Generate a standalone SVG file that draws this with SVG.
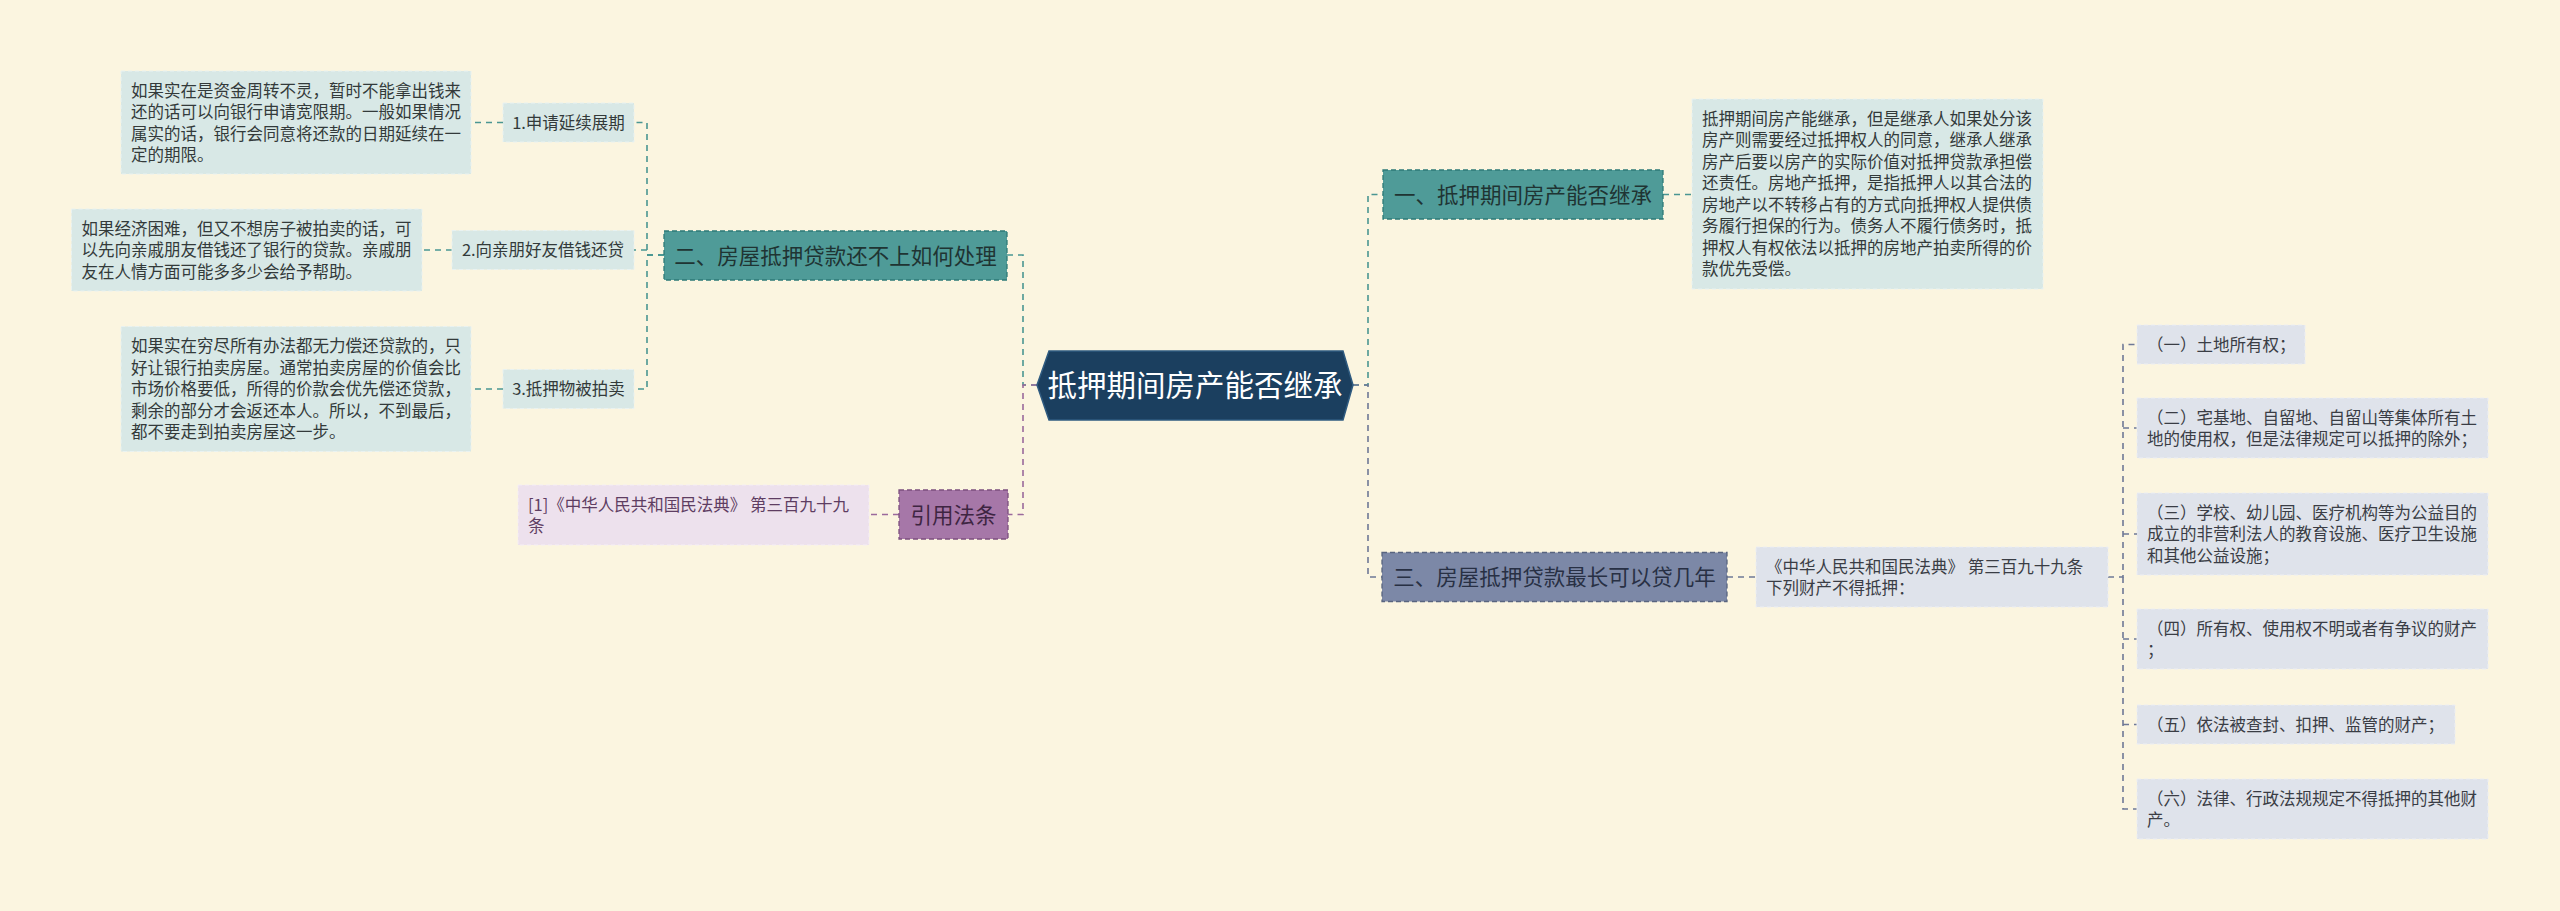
<svg xmlns="http://www.w3.org/2000/svg" width="2560" height="911" viewBox="0 0 2560 911">
<style>
text{font-family:"Noto Sans CJK SC","Noto Sans",sans-serif;}
.s{font-size:16.5px;fill:#333a3a;}
.sr{font-size:16.5px;fill:#3a3d45;}
.sp{font-size:16.5px;fill:#5e3d62;}
.b{font-size:21.5px;}
.c{stroke-width:1.6;fill:none;stroke-dasharray:6 5;}
.teal{stroke:#4a9692;}
.purp{stroke:#9a6a9c;}
.slate{stroke:#6e7896;}
.lt{fill:#d8e8e6;stroke:#e9f2f1;stroke-width:1;stroke-dasharray:4 3;}
.lr{fill:#dfe3eb;stroke:#eceef3;stroke-width:1;stroke-dasharray:4 3;}
.lp{fill:#ede1ed;stroke:#f5eef5;stroke-width:1;stroke-dasharray:4 3;}
</style>
<rect width="2560" height="911" fill="#fbf5e0"/>
<g id="connectors">
<path class="c teal" d="M1037 385H1023V255H1007"/>
<path class="c teal" d="M1353 385H1368V194.5H1383"/>
<path class="c purp" d="M1037 385H1023V514.5H1008"/>
<path class="c slate" d="M1353 385H1368V577H1382"/>
<path class="c teal" d="M664 255H647V122.5H634"/>
<path class="c teal" d="M664 255H647V250H634"/>
<path class="c teal" d="M664 255H647V389H634"/>
<path class="c teal" d="M503 122.5H471"/>
<path class="c teal" d="M452 250H422"/>
<path class="c teal" d="M503 389H471"/>
<path class="c purp" d="M899 514.5H869"/>
<path class="c teal" d="M1663 194.5H1692"/>
<path class="c slate" d="M1727 577H1756"/>
<path class="c slate" d="M2108 577H2123V344.5H2137"/>
<path class="c slate" d="M2123 428H2137"/>
<path class="c slate" d="M2123 534H2137"/>
<path class="c slate" d="M2123 639H2137"/>
<path class="c slate" d="M2123 724.5H2137"/>
<path class="c slate" d="M2123 577V809H2137"/>
</g>
<g id="center">
<polygon points="1037,385 1049,351 1343,351 1353,385 1343,420 1049,420" fill="#1b3f5f" stroke="#2f5b80" stroke-width="1.5"/>
<text x="1195" y="396" text-anchor="middle" font-size="29.5" fill="#ffffff">抵押期间房产能否继承</text>
</g>
<g id="branch2">
<rect x="664" y="231" width="343" height="49" fill="#4f9b98" stroke="#2e7a77" stroke-width="1.3" stroke-dasharray="5 3"/>
<text class="b" x="835.5" y="263.5" text-anchor="middle" fill="#1f3433">二、房屋抵押贷款还不上如何处理</text>
</g>
<g id="label1">
<rect class="lt" x="503" y="103" width="131" height="39"/>
<text class="s" x="568.5" y="128.8" text-anchor="middle">1.申请延续展期</text>
</g>
<g id="text1">
<rect class="lt" x="121" y="71" width="350" height="103"/>
<text class="s" x="131" y="96.8">如果实在是资金周转不灵，暂时不能拿出钱来</text>
<text class="s" x="131" y="118.3">还的话可以向银行申请宽限期。一般如果情况</text>
<text class="s" x="131" y="139.8">属实的话，银行会同意将还款的日期延续在一</text>
<text class="s" x="131" y="161.3">定的期限。</text>
</g>
<g id="label2">
<rect class="lt" x="452" y="230.5" width="182" height="39"/>
<text class="s" x="543" y="256.3" text-anchor="middle">2.向亲朋好友借钱还贷</text>
</g>
<g id="text2">
<rect class="lt" x="71.5" y="209" width="350.5" height="82"/>
<text class="s" x="81.5" y="234.8">如果经济困难，但又不想房子被拍卖的话，可</text>
<text class="s" x="81.5" y="256.3">以先向亲戚朋友借钱还了银行的贷款。亲戚朋</text>
<text class="s" x="81.5" y="277.8">友在人情方面可能多多少会给予帮助。</text>
</g>
<g id="label3">
<rect class="lt" x="503" y="369.5" width="131" height="39"/>
<text class="s" x="568.5" y="395.3" text-anchor="middle">3.抵押物被拍卖</text>
</g>
<g id="text3">
<rect class="lt" x="121" y="326.5" width="350" height="125"/>
<text class="s" x="131" y="352.3">如果实在穷尽所有办法都无力偿还贷款的，只</text>
<text class="s" x="131" y="373.8">好让银行拍卖房屋。通常拍卖房屋的价值会比</text>
<text class="s" x="131" y="395.3">市场价格要低，所得的价款会优先偿还贷款，</text>
<text class="s" x="131" y="416.8">剩余的部分才会返还本人。所以，不到最后，</text>
<text class="s" x="131" y="438.3">都不要走到拍卖房屋这一步。</text>
</g>
<g id="cite">
<rect x="899" y="490" width="109" height="49" fill="#a677a8" stroke="#7c4f7e" stroke-width="1.3" stroke-dasharray="5 3"/>
<text class="b" x="953.5" y="522.7" text-anchor="middle" fill="#3e2542">引用法条</text>
</g>
<g id="citetext">
<rect class="lp" x="518" y="485" width="351" height="60"/>
<text class="sp" x="528" y="510.8">[1]《中华人民共和国民法典》 第三百九十九</text>
<text class="sp" x="528" y="532.3">条</text>
</g>
<g id="branch1">
<rect x="1383" y="170" width="280" height="49" fill="#4f9b98" stroke="#2e7a77" stroke-width="1.3" stroke-dasharray="5 3"/>
<text class="b" x="1523" y="202.7" text-anchor="middle" fill="#1f3433">一、抵押期间房产能否继承</text>
</g>
<g id="text8">
<rect class="lt" x="1692" y="99" width="351" height="190"/>
<text class="s" x="1702" y="124.8">抵押期间房产能继承，但是继承人如果处分该</text>
<text class="s" x="1702" y="146.3">房产则需要经过抵押权人的同意，继承人继承</text>
<text class="s" x="1702" y="167.8">房产后要以房产的实际价值对抵押贷款承担偿</text>
<text class="s" x="1702" y="189.3">还责任。房地产抵押，是指抵押人以其合法的</text>
<text class="s" x="1702" y="210.8">房地产以不转移占有的方式向抵押权人提供债</text>
<text class="s" x="1702" y="232.3">务履行担保的行为。债务人不履行债务时，抵</text>
<text class="s" x="1702" y="253.8">押权人有权依法以抵押的房地产拍卖所得的价</text>
<text class="s" x="1702" y="275.3">款优先受偿。</text>
</g>
<g id="branch3">
<rect x="1382" y="552.5" width="345" height="49" fill="#7c88a7" stroke="#58647f" stroke-width="1.3" stroke-dasharray="5 3"/>
<text class="b" x="1554.5" y="585.2" text-anchor="middle" fill="#283044">三、房屋抵押贷款最长可以贷几年</text>
</g>
<g id="law">
<rect class="lr" x="1756" y="547" width="352" height="60"/>
<text class="sr" x="1766" y="572.8">《中华人民共和国民法典》 第三百九十九条</text>
<text class="sr" x="1766" y="594.3">下列财产不得抵押：</text>
</g>
<g id="item1">
<rect class="lr" x="2137" y="325" width="168" height="39"/>
<text class="sr" x="2147" y="350.8">（一）土地所有权；</text>
</g>
<g id="item2">
<rect class="lr" x="2137" y="398" width="351" height="60"/>
<text class="sr" x="2147" y="423.8">（二）宅基地、自留地、自留山等集体所有土</text>
<text class="sr" x="2147" y="445.3">地的使用权，但是法律规定可以抵押的除外；</text>
</g>
<g id="item3">
<rect class="lr" x="2137" y="493" width="351" height="82"/>
<text class="sr" x="2147" y="518.8">（三）学校、幼儿园、医疗机构等为公益目的</text>
<text class="sr" x="2147" y="540.3">成立的非营利法人的教育设施、医疗卫生设施</text>
<text class="sr" x="2147" y="561.8">和其他公益设施；</text>
</g>
<g id="item4">
<rect class="lr" x="2137" y="609" width="351" height="60"/>
<text class="sr" x="2147" y="634.8">（四）所有权、使用权不明或者有争议的财产</text>
<text class="sr" x="2147" y="656.3">；</text>
</g>
<g id="item5">
<rect class="lr" x="2137" y="705" width="318" height="39"/>
<text class="sr" x="2147" y="730.8">（五）依法被查封、扣押、监管的财产；</text>
</g>
<g id="item6">
<rect class="lr" x="2137" y="779" width="351" height="60"/>
<text class="sr" x="2147" y="804.8">（六）法律、行政法规规定不得抵押的其他财</text>
<text class="sr" x="2147" y="826.3">产。</text>
</g>
</svg>
